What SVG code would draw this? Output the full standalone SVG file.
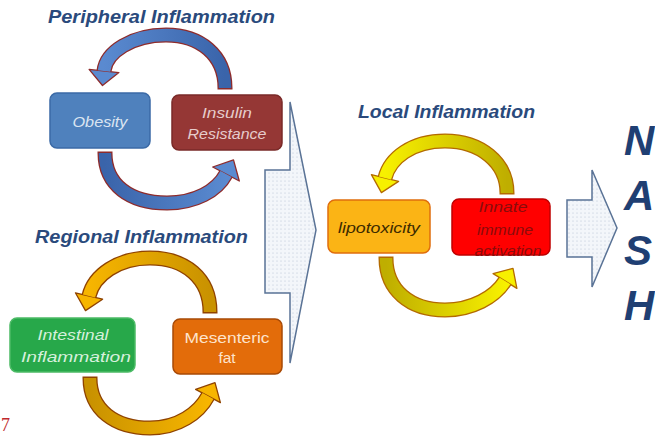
<svg xmlns="http://www.w3.org/2000/svg" width="655" height="436" viewBox="0 0 655 436">
<defs>
<style>
.title{font-family:"Liberation Sans",Arial,sans-serif;font-weight:bold;font-style:italic;font-size:18px;fill:#2a4a7c}
.lbl{font-family:"Liberation Sans",Arial,sans-serif;font-style:italic;font-size:15.5px;text-anchor:middle}
.nash{font-family:"Liberation Sans",Arial,sans-serif;font-weight:bold;font-style:italic;font-size:42px;fill:#1f3f73}
.box{stroke-width:1.5}
.olP{fill:none;stroke:#8e2b2b;stroke-width:15}
.olR{fill:none;stroke:#8f4200;stroke-width:15}
.olL{fill:none;stroke:#b36a00;stroke-width:15}
.hdP{fill:#5a8ad0;stroke:#8e2b2b;stroke-width:1.3;stroke-linejoin:round}
.hdR{fill:#f7b500;stroke:#8f4200;stroke-width:1.3;stroke-linejoin:round}
.hdL{fill:#f7f000;stroke:#b36a00;stroke-width:1.3;stroke-linejoin:round}
.band{fill:none;stroke-width:12.4}
.chev{fill:url(#dots);stroke:#5a7396;stroke-width:1.5;stroke-linejoin:miter}
</style>
<pattern id="dots" width="4" height="4" patternUnits="userSpaceOnUse">
<rect width="4" height="4" fill="#f3f6fa"/>
<circle cx="1" cy="1" r="0.55" fill="#b4c0d2"/>
</pattern>
<linearGradient id="gPt" x1="0" y1="0" x2="1" y2="0"><stop offset="0" stop-color="#5a8ad0"/><stop offset="1" stop-color="#3a64aa"/></linearGradient>
<linearGradient id="gPb" x1="0" y1="0" x2="1" y2="0"><stop offset="0" stop-color="#3a64aa"/><stop offset="1" stop-color="#5a8ad0"/></linearGradient>
<linearGradient id="gRt" x1="0" y1="0" x2="1" y2="0"><stop offset="0" stop-color="#f7b500"/><stop offset="1" stop-color="#c99200"/></linearGradient>
<linearGradient id="gRb" x1="0" y1="0" x2="1" y2="0"><stop offset="0" stop-color="#c99200"/><stop offset="1" stop-color="#f7b500"/></linearGradient>
<linearGradient id="gLt" x1="0" y1="0" x2="1" y2="0"><stop offset="0" stop-color="#f7f000"/><stop offset="1" stop-color="#bfae00"/></linearGradient>
<linearGradient id="gLb" x1="0" y1="0" x2="1" y2="0"><stop offset="0" stop-color="#bfae00"/><stop offset="1" stop-color="#f7f000"/></linearGradient>
</defs>
<rect width="655" height="436" fill="#ffffff"/>

<!-- titles -->
<text class="title" x="48" y="23" textLength="227" lengthAdjust="spacingAndGlyphs">Peripheral Inflammation</text>
<text class="title" x="35" y="243" textLength="213" lengthAdjust="spacingAndGlyphs">Regional Inflammation</text>
<text class="title" x="358" y="118" textLength="177" lengthAdjust="spacingAndGlyphs">Local Inflammation</text>

<g id="connectors">
<!-- big chevron -->
<polygon class="chev" points="265,170 290,170 290,102 316,230 290,363 290,293 265,293"/>
<!-- small chevron -->
<polygon class="chev" points="567,200 592,200 592,170 617,228 592,287 592,257 567,257"/>

<!-- peripheral top -->
<g id="arrow-ir-obesity">
<path class="olP" d="M225,89.4 L225,88 C225,55 200,35 166,35 C132,35 106,52 104,71"/>
<polygon class="hdP" points="89.1,69.4 118.9,72.6 102.5,85.5"/>
<path class="band" stroke="url(#gPt)" d="M225,88 C225,55 200,35 166,35 C132,35 106,52 104,71"/>
</g>
<!-- peripheral bottom -->
<g id="arrow-obesity-ir">
<path class="olP" d="M105,151.6 L105,153 C105,185 130,203 167,203 C195,203 217,191 226,174"/>
<polygon class="hdP" points="239.3,181 212.7,167 233.5,159.9"/>
<path class="band" stroke="url(#gPb)" d="M105,153 C105,185 130,203 167,203 C195,203 217,191 226,174"/>
</g>
<!-- regional top -->
<g id="arrow-mes-int">
<path class="olR" d="M210,313.4 L210,312 C210,278 185,258 150,258 C118,258 94,275 89,296"/>
<polygon class="hdR" points="102.6,299.2 75.4,292.8 85.5,310.6"/>
<path class="band" stroke="url(#gRt)" d="M210,312 C210,278 185,258 150,258 C118,258 94,275 89,296"/>
</g>
<!-- regional bottom -->
<g id="arrow-int-mes">
<path class="olR" d="M90,376.6 L90,378 C90,410 115,428 150,428 C178,428 199,413 208,396"/>
<polygon class="hdR" points="220.4,402.6 195.6,389.4 215,382.7"/>
<path class="band" stroke="url(#gRb)" d="M90,378 C90,410 115,428 150,428 C178,428 199,413 208,396"/>
</g>
<!-- local top -->
<g id="arrow-innate-lipo">
<path class="olL" d="M507,194.4 L507,193 C507,162 480,141 445,141 C412,141 390,158 385,178"/>
<polygon class="hdL" points="398.6,181.4 371.4,174.6 381.4,192.6"/>
<path class="band" stroke="url(#gLt)" d="M507,193 C507,162 480,141 445,141 C412,141 390,158 385,178"/>
</g>
<!-- local bottom -->
<g id="arrow-lipo-innate">
<path class="olL" d="M386,256.6 L386,258 C386,290 410,310 445,310 C472,310 495,297 505,281"/>
<polygon class="hdL" points="516.9,288.4 493.1,273.6 513,268.3"/>
<path class="band" stroke="url(#gLb)" d="M386,258 C386,290 410,310 445,310 C472,310 495,297 505,281"/>
</g>
</g>

<!-- nodes -->
<g id="obesity">
<rect class="box" x="50" y="93" width="100" height="55" rx="7" fill="#4f81bd" stroke="#3b6aa6"/>
<text class="lbl" x="100" y="127" fill="#dbe5f1" textLength="55" lengthAdjust="spacingAndGlyphs">Obesity</text>
</g>
<g id="insulin-resistance">
<rect class="box" x="172" y="95" width="110" height="55" rx="7" fill="#953735" stroke="#7a2a28"/>
<text class="lbl" x="227" y="118" fill="#e6cccc" textLength="50" lengthAdjust="spacingAndGlyphs">Insulin</text>
<text class="lbl" x="227" y="139" fill="#e6cccc" textLength="79" lengthAdjust="spacingAndGlyphs">Resistance</text>
</g>
<g id="intestinal-inflammation">
<rect class="box" x="10" y="318" width="125" height="54" rx="7" fill="#27a84a" stroke="#4cbb66"/>
<text class="lbl" x="73" y="340" fill="#d6f0dc" textLength="71" lengthAdjust="spacingAndGlyphs">Intestinal</text>
<text class="lbl" x="76" y="362" fill="#d6f0dc" textLength="110" lengthAdjust="spacingAndGlyphs">Inflammation</text>
</g>
<g id="mesenteric-fat">
<rect class="box" x="173" y="319" width="109" height="55" rx="7" fill="#e36c0a" stroke="#a84a06"/>
<text class="lbl" x="227" y="343" fill="#fde3cc" style="font-style:normal" textLength="85" lengthAdjust="spacingAndGlyphs">Mesenteric</text>
<text class="lbl" x="227" y="363" fill="#fde3cc" style="font-style:normal">fat</text>
</g>
<g id="lipotoxicity">
<rect class="box" x="328" y="200" width="102" height="53" rx="7" fill="#fbb415" stroke="#e06d0c"/>
<text class="lbl" x="379" y="233" fill="#3d2b00" textLength="82" lengthAdjust="spacingAndGlyphs">lipotoxicity</text>
</g>
<g id="innate-immune-activation">
<rect class="box" x="452" y="199" width="98" height="56" rx="7" fill="#ff0000" stroke="#c00000"/>
<text class="lbl" x="503" y="212" fill="#8a0c0c" textLength="49" lengthAdjust="spacingAndGlyphs">Innate</text>
<text class="lbl" x="505" y="235" fill="#8a0c0c" textLength="56" lengthAdjust="spacingAndGlyphs">immune</text>
<text class="lbl" x="508" y="256" fill="#8a0c0c" textLength="67" lengthAdjust="spacingAndGlyphs">activation</text>
</g>
<g id="nash">
<text class="nash" x="624" y="155">N</text>
<text class="nash" x="624" y="210">A</text>
<text class="nash" x="624" y="265">S</text>
<text class="nash" x="624" y="320">H</text>
</g>
<text x="1" y="431" font-family="Liberation Serif, serif" font-size="18" fill="#c0282d">7</text>
</svg>
